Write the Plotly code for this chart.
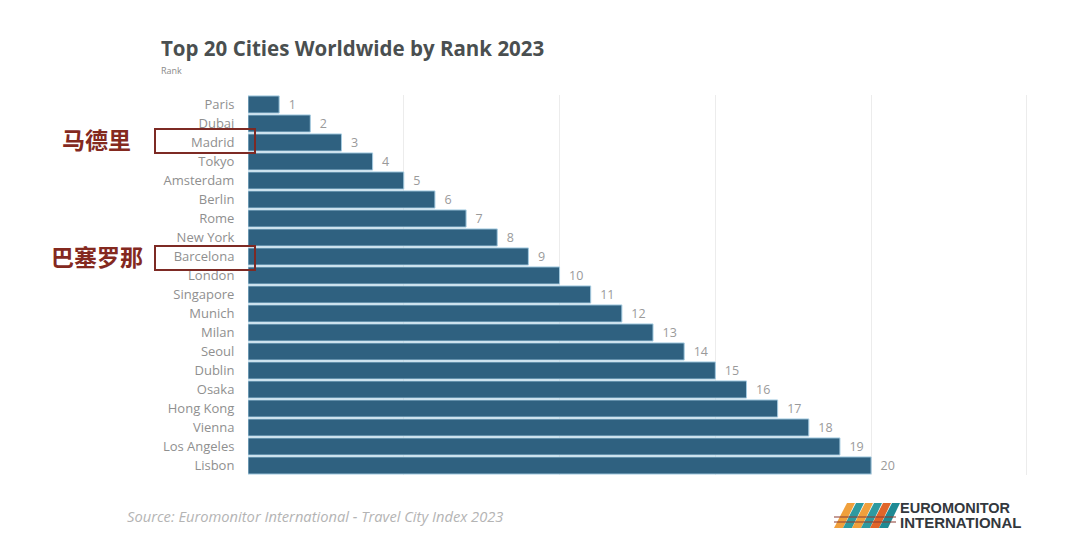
import plotly.graph_objects as go

cities = ["Paris", "Dubai", "Madrid", "Tokyo", "Amsterdam", "Berlin", "Rome", "New York", "Barcelona", "London",
          "Singapore", "Munich", "Milan", "Seoul", "Dublin", "Osaka", "Hong Kong", "Vienna", "Los Angeles", "Lisbon"]
ranks = [1, 2, 3, 4, 5, 6, 7, 8, 9, 10, 11, 12, 13, 14, 15, 16, 17, 18, 19, 20]
highlight_labels = [("马德里", "Madrid"), ("巴塞罗那", "Barcelona")]

OFF = 8  # the page's body margin
W, H = 1080, 554 - 2 * OFF
L, R, T, B = 248, 1030, 95, 475
X_MAX = 25.1


def px(x):
    return (x - L) / (R - L)


def py(y):
    return (B - y) / (B - T)


fig = go.Figure(go.Bar(
    x=ranks, y=cities, orientation="h",
    marker=dict(color="#2f6180", line=dict(width=1, color="#a5cbe0")),
    text=["\u00a0\u00a0" + str(r) for r in ranks], textposition="outside",
    textfont=dict(family="Open Sans", size=12.5, color="#9a9a9a"),
    cliponaxis=False, width=0.9,
))

shapes = []
annotations = []

# red highlight boxes + Chinese labels
for (zh, city), (top, bottom), fs in zip(highlight_labels, [(129, 153), (246, 270)], [23, 23]):
    shapes.append(dict(type="rect", xref="paper", yref="paper", x0=px(155), x1=px(255), y0=py(bottom), y1=py(top),
                       line=dict(color="#7d2a24", width=2), layer="above"))
    annotations.append(dict(text=f"<b>{zh}</b>", xref="paper", yref="paper", x=px(96.5), y=py((top + bottom) / 2 - 2),
                            showarrow=False, xanchor="center", yanchor="middle",
                            font=dict(family="Noto Sans CJK SC", size=fs, color="#84291f")))

annotations += [
    dict(text="<b>Top 20 Cities Worldwide by Rank 2023</b>", xref="paper", yref="paper", x=px(158.5), y=py(48.5),
         showarrow=False, xanchor="left", yanchor="middle",
         font=dict(family="Open Sans", size=20.5, color="#4a4f50")),
    dict(text="Rank", xref="paper", yref="paper", x=px(158.5), y=py(70.5), showarrow=False, xanchor="left",
         yanchor="middle", font=dict(family="Open Sans", size=9, color="#8a8a8a")),
    dict(text="<i>Source: Euromonitor International - Travel City Index 2023</i>", xref="paper", yref="paper",
         x=px(125), y=py(516), showarrow=False, xanchor="left", yanchor="middle",
         font=dict(family="Open Sans", size=14.7, color="#b4b4b4")),
    dict(text="<b>EUROMONITOR</b>", xref="paper", yref="paper", x=px(897.5), y=py(508), showarrow=False,
         xanchor="left", yanchor="middle", font=dict(family="Liberation Sans", size=14.5, color="#33383d")),
    dict(text="<b>INTERNATIONAL</b>", xref="paper", yref="paper", x=px(897.5), y=py(522), showarrow=False,
         xanchor="left", yanchor="middle", font=dict(family="Liberation Sans", size=15, color="#33383d")),
]

# logo ribbons
logo_colors = ["#f0a03c", "#2e9aa0", "#f0a03c", "#2e9aa0", "#e0662a", "#1f8a94"]
for i, c in enumerate(logo_colors):
    x0 = 834 + i * 9
    shapes.append(dict(type="path", xref="paper", yref="paper",
                       path=f"M {px(x0)} {py(528)} L {px(x0 + 9)} {py(528)} L {px(x0 + 21)} {py(503)} L {px(x0 + 13)} {py(503)} Z",
                       fillcolor=c, line=dict(width=0), layer="above"))
for yy in (517, 522):
    shapes.append(dict(type="line", xref="paper", yref="paper", x0=px(834), x1=px(896), y0=py(yy), y1=py(yy),
                       line=dict(color="#8a3a30", width=1.2), layer="above"))
# thin green mark at the right edge
shapes.append(dict(type="rect", xref="paper", yref="paper", x0=px(1075.5), x1=px(1078), y0=py(122), y1=py(91),
                   fillcolor="#5aae7a", line=dict(width=0), layer="above"))

fig.update_layout(
    width=W, height=H,
    margin=dict(l=L - OFF, r=W + OFF - R, t=T - OFF, b=554 - OFF - B, pad=0),
    paper_bgcolor="white", plot_bgcolor="white",
    showlegend=False, shapes=shapes, annotations=annotations,
    xaxis=dict(range=[0, X_MAX], tickvals=[5, 10, 15, 20, 25], showticklabels=False, showgrid=True,
               gridcolor="#ececec", gridwidth=1, zeroline=False, showline=False, ticks=""),
    yaxis=dict(autorange="reversed", tickmode="array", tickvals=cities, ticktext=cities,
               tickfont=dict(family="Open Sans", size=13, color="#8f8f8f"), ticks="outside", ticklen=10,
               tickcolor="rgba(0,0,0,0)", showgrid=False, zeroline=False, showline=False),
)
fig.write_html("out.html")
